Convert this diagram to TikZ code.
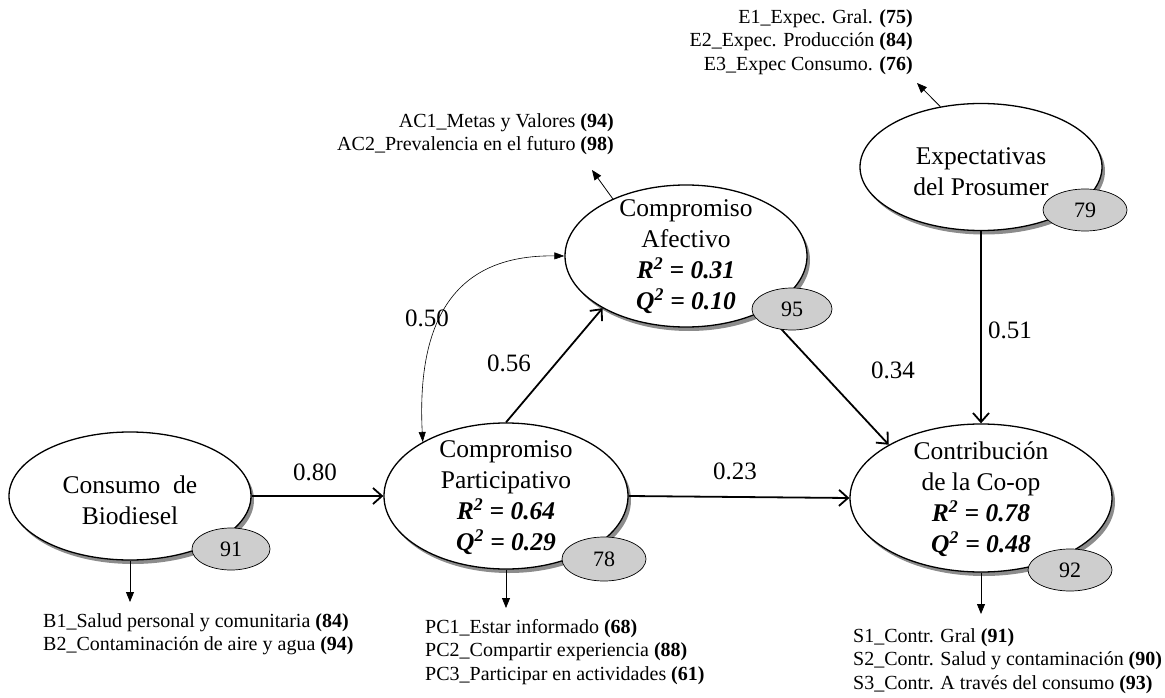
\documentclass[tikz,border=0pt]{standalone}
\usepackage{fontspec}
\setmainfont{Liberation Serif}
\usetikzlibrary{shapes.geometric,arrows.meta,shadows}
\definecolor{bubblegray}{RGB}{206,206,206}
\begin{document}
\begin{tikzpicture}[x=1pt,y=-1pt,
  latent/.style={ellipse,draw,line width=1.3pt,fill=white,inner sep=0pt,
    drop shadow={shadow xshift=3pt,shadow yshift=-4pt,fill=black!45,opacity=1}},
  bubble/.style={ellipse,draw,line width=0.7pt,fill=bubblegray,inner sep=0pt,
    minimum width=82pt,minimum height=42pt,font=\fontsize{22}{26}\selectfont},
  ltext/.style={align=center,font=\fontsize{25.5}{31}\selectfont,inner sep=0pt},
  coef/.style={font=\fontsize{25}{30}\selectfont,inner sep=0pt},
  items/.style={font=\fontsize{20}{23.5}\selectfont,inner sep=0pt},
  patharrow/.style={line width=1.8pt,-{Straight Barb[length=9pt,width=16pt,line width=1.8pt]}},
  indarrow/.style={line width=0.8pt,-{Triangle[length=10pt,width=8pt]}},
  corrarrow/.style={line width=0.6pt,{Triangle[length=10pt,width=7pt]}-{Triangle[length=10pt,width=7pt]}},
]
\fill[white] (0,0) rectangle (1165,698);
\useasboundingbox (0,0) rectangle (1165,698);

% latent variables
\node[latent,minimum width=242pt,minimum height=128pt] (Cb) at (130,496) {};
\node[latent,minimum width=244pt,minimum height=146pt] (Pa) at (506,496) {};
\node[latent,minimum width=242pt,minimum height=142pt] (Af) at (686,256) {};
\node[latent,minimum width=242pt,minimum height=127pt] (Ex) at (981,167) {};
\node[latent,minimum width=262pt,minimum height=148pt] (Co) at (981,498) {};

% free ends of indicator arrows
\coordinate (CbOut) at (130,602);
\coordinate (PaOut) at (506,608);
\coordinate (CoOut) at (981,614);
\coordinate (AfOut) at (592,170);
\coordinate (ExOut) at (917,83);

% structural paths
\draw[patharrow] (Cb.east) -- (Pa.west);
\draw[patharrow] (Pa.east) -- (Co.west);
\draw[patharrow] (Pa.north) -- (Af.212);
\draw[patharrow] (Af.-35) -- (Co.150);
\draw[patharrow] (Ex.south) -- (Co.north);
\draw[corrarrow] (Af.west) .. controls (480,255) and (415,290) .. (Pa.147);

% indicator arrows
\draw[indarrow] (Cb.south) -- (CbOut);
\draw[indarrow] (Pa.south) -- (PaOut);
\draw[indarrow] (Co.south) -- (CoOut);
\draw[indarrow] (Af.142) -- (AfOut);
\draw[indarrow] (Ex.124) -- (ExOut);

% bubbles
\node[bubble,minimum width=78pt] (bCb) at (231,549) {91};
\node[bubble,minimum width=84pt,minimum height=44pt] (bPa) at (604,559) {78};
\node[bubble,minimum width=80pt] (bAf) at (792,309) {95};
\node[bubble,minimum width=84pt] (bEx) at (1085,210) {79};
\node[bubble,minimum width=84pt] (bCo) at (1070,570) {92};

% texts in latent variables
\node[ltext] (tCb) at (130,500) {Consumo\ \ de\\Biodiesel};
\node[ltext] (tPa) at (506,498) {Compromiso\\Participativo\\\textbf{\textit{R\textsuperscript{2} = 0.64}}\\\textbf{\textit{Q\textsuperscript{2} = 0.29}}};
\node[ltext] (tAf) at (686,257) {Compromiso\\Afectivo\\\textbf{\textit{R\textsuperscript{2} = 0.31}}\\\textbf{\textit{Q\textsuperscript{2} = 0.10}}};
\node[ltext] (tEx) at (981,172) {Expectativas\\del Prosumer};
\node[ltext] (tCo) at (981,499) {Contribución\\de la Co-op\\\textbf{\textit{R\textsuperscript{2} = 0.78}}\\\textbf{\textit{Q\textsuperscript{2} = 0.48}}};

% coefficients
\node[coef] (c080) at (315,472) {0.80};
\node[coef] (c023) at (735,471) {0.23};
\node[coef] (c056) at (509,363) {0.56};
\node[coef] (c050) at (427,318) {0.50};
\node[coef] (c034) at (893,370) {0.34};
\node[coef] (c051) at (1010,330) {0.51};

% indicator lists
\node[items,anchor=west,align=left] (lCb) at (43,634) {B1\_Salud personal y comunitaria \textbf{(84)}\\B2\_Contaminación de aire y agua \textbf{(94)}};
\node[items,anchor=west,align=left] (lPa) at (425,652) {PC1\_Estar informado \textbf{(68)}\\PC2\_Compartir experiencia \textbf{(88)}\\PC3\_Participar en actividades \textbf{(61)}};
\node[items,anchor=west,align=left] (lCo) at (853,661) {S1\_Contr. Gral \textbf{(91)}\\S2\_Contr. Salud y contaminación \textbf{(90)}\\S3\_Contr. A través del consumo \textbf{(93)}};
\node[items,anchor=east,align=right] (lAf) at (614,134) {AC1\_Metas y Valores \textbf{(94)}\\AC2\_Prevalencia\ en el futuro \textbf{(98)}};
\node[items,anchor=east,align=right] (lEx) at (913,42) {E1\_Expec. Gral. \textbf{(75)}\\E2\_Expec. Producción \textbf{(84)}\\E3\_Expec Consumo. \textbf{(76)}};
\end{tikzpicture}
\end{document}
